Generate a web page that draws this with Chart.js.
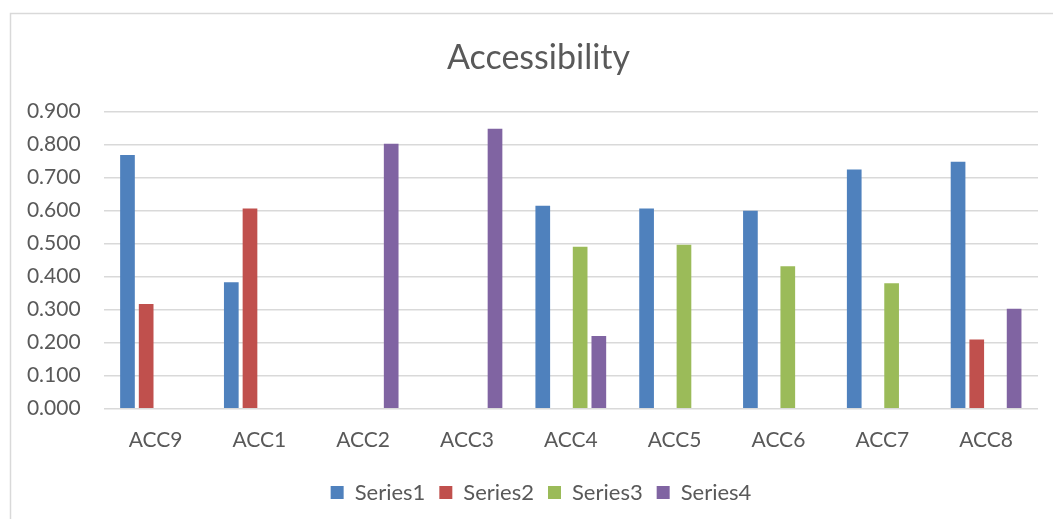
<!DOCTYPE html>
<html>
<head>
<meta charset="utf-8">
<script src="https://cdn.jsdelivr.net/npm/chart.js@4/dist/chart.umd.min.js"></script>
<style>
  html, body { margin: 0; padding: 0; background: #ffffff; }
  #wrap { width: 1053px; height: 519px; position: relative; }
</style>
</head>
<body>
<div id="wrap"><canvas id="chart" width="1053" height="519"></canvas></div>
<script>
const categories = ['ACC9', 'ACC1', 'ACC2', 'ACC3', 'ACC4', 'ACC5', 'ACC6', 'ACC7', 'ACC8'];
const series1 = [0.769, 0.383, null, null, 0.615, 0.607, 0.600, 0.725, 0.748];
const series2 = [0.317, 0.607, null, null, null, null, null, null, 0.210];
const series3 = [null, null, null, null, 0.491, 0.497, 0.432, 0.380, null];
const series4 = [null, null, 0.803, 0.848, 0.220, null, null, null, 0.303];
const seriesNames = ['Series1', 'Series2', 'Series3', 'Series4'];
const seriesColors = ['#4F81BD', '#C0504D', '#9BBB59', '#8064A2'];

const FONT = 'Lato, "Open Sans", "Liberation Sans", sans-serif';
const TEXT = '#595959';
const GRID = '#d9d9d9';

// light frame around the whole chart
const framePlugin = {
  id: 'frame',
  beforeDraw(chart) {
    const ctx = chart.ctx;
    ctx.save();
    ctx.fillStyle = '#ffffff';
    ctx.fillRect(0, 0, chart.width, chart.height);
    ctx.strokeStyle = GRID;
    ctx.lineWidth = 1.5;
    ctx.strokeRect(10.5, 13.5, chart.width + 10, chart.height + 10);
    ctx.restore();
  }
};

// center the title and legend over the framed area rather than the canvas
const centerPlugin = {
  id: 'centerBlocks',
  afterLayout(chart) {
    const shift = (box, dx) => { if (box) { box.left += dx; box.right += dx; } };
    shift(chart.titleBlock, 19.5);
    shift(chart.legend, 22);
  }
};

const values = [series1, series2, series3, series4];
new Chart(document.getElementById('chart'), {
  type: 'bar',
  data: {
    labels: categories,
    datasets: values.map((v, i) => ({
      label: seriesNames[i],
      data: v,
      backgroundColor: seriesColors[i],
      borderWidth: 0,
      categoryPercentage: 0.72,
      barPercentage: 0.786
    }))
  },
  options: {
    responsive: false,
    animation: false,
    layout: { padding: { left: 0, right: 15, top: 0, bottom: 5.5 } },
    plugins: {
      tooltip: { enabled: false },
      title: {
        display: true,
        text: 'Accessibility',
        color: TEXT,
        font: { family: FONT, size: 34, weight: 'normal' },
        padding: { top: 38, bottom: 32.9 }
      },
      legend: {
        position: 'bottom',
        labels: {
          color: TEXT,
          font: { family: FONT, size: 22 },
          boxWidth: 13,
          boxHeight: 13,
          padding: 14
        }
      }
    },
    scales: {
      x: {
        grid: { display: false },
        border: { display: false },
        ticks: { color: TEXT, font: { family: FONT, size: 21 }, padding: 11, maxRotation: 0 },
        afterFit(scale) { scale.height = 58.8; }
      },
      y: {
        min: 0,
        max: 0.9,
        grid: { color: GRID, lineWidth: 1.5, drawTicks: false },
        border: { display: false },
        ticks: {
          stepSize: 0.1,
          color: TEXT,
          font: { family: FONT, size: 21 },
          padding: 23,
          callback: (v) => Number(v).toFixed(3)
        },
        afterFit(scale) { scale.width = 103.6; }
      }
    }
  },
  plugins: [framePlugin, centerPlugin]
});
</script>
</body>
</html>
